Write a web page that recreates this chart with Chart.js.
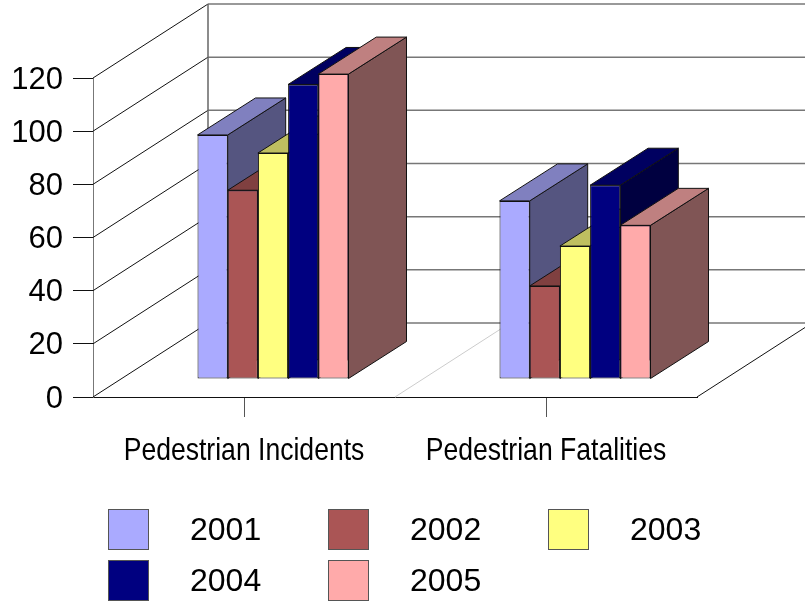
<!DOCTYPE html>
<html>
<head>
<meta charset="utf-8">
<style>
  html, body { margin: 0; padding: 0; background: #fff; }
  #wrap { width: 805px; height: 605px; }
</style>
<script src="https://cdn.jsdelivr.net/npm/chart.js@4/dist/chart.umd.min.js"></script>
</head>
<body>
<div id="wrap"><canvas id="barCanvas" width="805" height="605"></canvas></div>
<script>
const categories = ['Pedestrian Incidents', 'Pedestrian Fatalities'];
const years = ['2001', '2002', '2003', '2004', '2005'];
const values2001 = [91.8, 67];
const values2002 = [71, 35];
const values2003 = [85, 50];
const values2004 = [110.8, 72.9];
const values2005 = [114.7, 57.8];
const frontColors = ['#AAAAFF', '#AA5555', '#FFFF80', '#000080', '#FFAAAA'];
const topColors = ['#8080BF', '#804040', '#BFBF60', '#000060', '#BF8080'];
const sideColors = ['#555580', '#552B2B', '#808040', '#000040', '#805555'];

const seriesValues = [values2001, values2002, values2003, values2004, values2005];

// Depth of the whole floor, bars stand half way in
const floorDx = 115;
const floorDy = -74;
const barDx = 58;
const barDy = -37;
const shiftX = 29;
const shiftY = -18;

const FONT = '"Liberation Sans", Arial, sans-serif';

function line(ctx, x1, y1, x2, y2, color, width) {
  ctx.beginPath();
  ctx.moveTo(x1, y1);
  ctx.lineTo(x2, y2);
  ctx.strokeStyle = color;
  ctx.lineWidth = width;
  ctx.stroke();
}

function face(ctx, points, color) {
  ctx.beginPath();
  points.forEach((p, i) => (i === 0 ? ctx.moveTo(p[0], p[1]) : ctx.lineTo(p[0], p[1])));
  ctx.closePath();
  ctx.fillStyle = color;
  ctx.fill();
  ctx.strokeStyle = '#111';
  ctx.lineWidth = 1;
  ctx.stroke();
}

const box3dPlugin = {
  id: 'box3d',
  beforeDatasetsDraw: (chart) => {
    const ctx = chart.ctx;
    const yScale = chart.scales.y;
    const area = chart.chartArea;
    ctx.save();
    // walls: left side goes black and thin, back wall is grey
    yScale.ticks.forEach((tick) => {
      const y = yScale.getPixelForValue(tick.value);
      line(ctx, area.left, y, area.left + floorDx, y + floorDy, '#111', 1);
      line(ctx, area.left + floorDx, y + floorDy, area.right + floorDx, y + floorDy, '#777', 1.5);
    });
    line(ctx, area.left + floorDx, area.top + floorDy, area.left + floorDx, area.bottom + floorDy, '#666', 1.5);
    // floor edge and divider between the two groups
    line(ctx, area.right, area.bottom, area.right + floorDx, area.bottom + floorDy, '#111', 1);
    const mid = (area.left + area.right) / 2;
    line(ctx, mid, area.bottom, mid + floorDx, area.bottom + floorDy, '#ccc', 1);

    // sides and tops go left to right so the next bar covers the one before it
    ctx.translate(shiftX, shiftY);
    chart.data.datasets.forEach((ds, i) => {
      chart.getDatasetMeta(i).data.forEach((bar) => {
        const p = bar.getProps(['x', 'y', 'base', 'width'], true);
        const left = p.x - p.width / 2;
        const right = p.x + p.width / 2;
        face(ctx, [[right, p.y], [right + barDx, p.y + barDy], [right + barDx, p.base + barDy], [right, p.base]], sideColors[i]);
        face(ctx, [[left, p.y], [left + barDx, p.y + barDy], [right + barDx, p.y + barDy], [right, p.y]], topColors[i]);
      });
    });
    ctx.restore();
  },
  beforeDatasetDraw: (chart) => {
    chart.ctx.save();
    chart.ctx.translate(shiftX, shiftY);
  },
  afterDatasetDraw: (chart) => {
    chart.ctx.restore();
  },
  afterDraw: (chart) => {
    const ctx = chart.ctx;
    const xScale = chart.scales.x;

    // category labels are squeezed sideways, a plain tick label can't do that
    ctx.save();
    ctx.font = '32px ' + FONT;
    ctx.fillStyle = '#000';
    ctx.textAlign = 'center';
    ctx.textBaseline = 'middle';
    categories.forEach((label, i) => {
      ctx.save();
      ctx.translate(xScale.getPixelForTick(i), 451);
      ctx.scale(0.83, 1);
      ctx.fillText(label, 0, 0);
      ctx.restore();
    });
    ctx.restore();

    const colX = [108, 328, 548];
    const rowY = [509, 560];
    ctx.save();
    ctx.font = '32px ' + FONT;
    ctx.textBaseline = 'middle';
    chart.data.datasets.forEach((ds, i) => {
      const x = colX[i % 3];
      const y = rowY[Math.floor(i / 3)];
      ctx.fillStyle = ds.backgroundColor;
      ctx.fillRect(x, y, 41, 41);
      ctx.strokeStyle = '#555';
      ctx.lineWidth = 1;
      ctx.strokeRect(x + 0.5, y + 0.5, 40, 40);
      ctx.fillStyle = '#000';
      ctx.fillText(ds.label, x + 82, y + 22);
    });
    ctx.restore();
  }
};

const barChart = new Chart(document.getElementById('barCanvas').getContext('2d'), {
  type: 'bar',
  data: {
    labels: categories,
    datasets: years.map((year, i) => ({
      label: year,
      data: seriesValues[i],
      backgroundColor: frontColors[i],
      borderColor: '#111',
      borderWidth: 1,
      borderSkipped: false,
      clip: false,
      categoryPercentage: 0.5,
      barPercentage: 1
    }))
  },
  options: {
    responsive: false,
    animation: false,
    layout: { padding: { top: 78, right: 108, left: 0, bottom: 0 } },
    plugins: {
      legend: { display: false },
      tooltip: { enabled: false }
    },
    scales: {
      x: {
        afterFit: (scale) => { scale.height = 208; },
        grid: { offset: false, drawOnChartArea: false, tickLength: 20, color: '#555' },
        border: { color: '#111', width: 1 },
        ticks: { display: false }
      },
      y: {
        min: 0,
        max: 120,
        afterFit: (scale) => { scale.width = 93; },
        grid: { drawOnChartArea: false, tickLength: 20, color: '#111' },
        border: { color: '#777', width: 1 },
        ticks: { color: '#000', padding: 10, stepSize: 20, labelOffset: 2, font: { family: FONT, size: 31 } }
      }
    }
  },
  plugins: [box3dPlugin]
});
</script>
</body>
</html>
